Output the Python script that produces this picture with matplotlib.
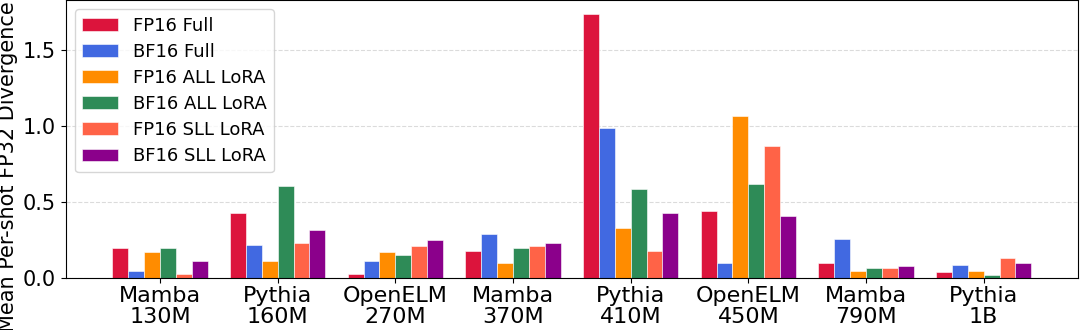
import matplotlib
matplotlib.use("Agg")
import matplotlib.pyplot as plt
import numpy as np

models = ['Mamba\n130M', 'Pythia\n160M', 'OpenELM\n270M', 'Mamba\n370M',
          'Pythia\n410M', 'OpenELM\n450M', 'Mamba\n790M', 'Pythia\n1B']
series = ['FP16 Full', 'BF16 Full', 'FP16 ALL LoRA', 'BF16 ALL LoRA',
          'FP16 SLL LoRA', 'BF16 SLL LoRA']

fp16_full = [0.20, 0.43, 0.03, 0.18, 1.74, 0.44, 0.10, 0.04]
bf16_full = [0.05, 0.22, 0.11, 0.29, 0.99, 0.10, 0.26, 0.09]
fp16_all = [0.17, 0.11, 0.17, 0.10, 0.33, 1.07, 0.05, 0.05]
bf16_all = [0.20, 0.61, 0.15, 0.20, 0.59, 0.62, 0.07, 0.02]
fp16_sll = [0.03, 0.23, 0.21, 0.21, 0.18, 0.87, 0.07, 0.13]
bf16_sll = [0.11, 0.32, 0.25, 0.23, 0.43, 0.41, 0.08, 0.10]

values = [fp16_full, bf16_full, fp16_all, bf16_all, fp16_sll, bf16_sll]
colors = ['crimson', 'royalblue', 'darkorange', 'seagreen', 'tomato', 'darkmagenta']

fig, ax = plt.subplots(figsize=(10.81, 3.30), dpi=100)
x = np.arange(len(models))
w = 0.135
for i, (name, vals) in enumerate(zip(series, values)):
    ax.bar(x + (i - 2.5) * w, vals, w, label=name, color=colors[i],
           edgecolor='white', linewidth=0.4)

ax.set_xticks(x)
ax.set_xticklabels(models, fontsize=16, linespacing=1.1)
ax.tick_params(axis='x', pad=2)
ax.tick_params(axis='y', labelsize=15)
ax.set_ylabel('Mean Per-shot FP32 Divergence', fontsize=15)
ax.yaxis.set_label_coords(-0.047, 0.40)
ax.set_xlim(-0.8, 7.8)
ax.set_ylim(0, 1.83)
ax.set_yticks([0.0, 0.5, 1.0, 1.5])
ax.yaxis.grid(True, linestyle='--', color='lightgray', alpha=0.8)
ax.set_axisbelow(True)
ax.legend(loc='upper left', fontsize=13, labelspacing=0.45, borderaxespad=0.5)

plt.subplots_adjust(left=0.061, right=0.997, top=0.999, bottom=0.157)
plt.savefig('out.png', dpi=100)
